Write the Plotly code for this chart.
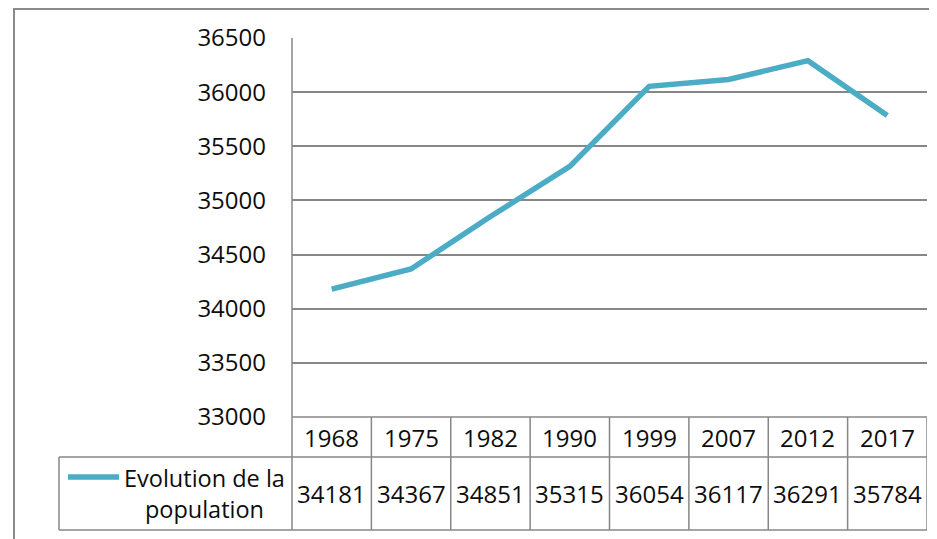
import plotly.graph_objects as go

years = ["1968", "1975", "1982", "1990", "1999", "2007", "2012", "2017"]
population = [34181, 34367, 34851, 35315, 36054, 36117, 36291, 35784]
series_name = "Evolution de la population"
y_ticks = [33000, 33500, 34000, 34500, 35000, 35500, 36000, 36500]

W, H = 937, 539
OFF = 8  # page body margin compensation
LINE_COLOR = "#4BACC6"
GRID = "#878787"
FONT = "Open Sans"
FS = 24
FS_TXT = 23.5
TXT = "#0d0d0d"

def px(x):
    return (x - OFF) / W

def py(y):
    return 1 - (y - OFF) / H

left, right, top, bottom = 292, 927, 38, 417
row1_bottom, row2_bottom = 457, 530
legend_left = 59

fig = go.Figure()
fig.add_trace(go.Scatter(
    x=list(range(len(years))), y=population, mode="lines", name=series_name,
    line=dict(color=LINE_COLOR, width=5.5), showlegend=False,
))

shapes = []
shapes.append(dict(type="line", xref="paper", yref="paper", x0=px(14), x1=px(14), y0=py(8), y1=py(560),
                   line=dict(color="#8a8a8a", width=2)))
shapes.append(dict(type="line", xref="paper", yref="paper", x0=px(14), x1=px(960), y0=py(9), y1=py(9),
                   line=dict(color="#8a8a8a", width=2)))
shapes.append(dict(type="line", xref="paper", yref="paper", x0=px(left), x1=px(left), y0=py(top), y1=py(row2_bottom),
                   line=dict(color=GRID, width=1.5)))
shapes.append(dict(type="line", xref="paper", yref="paper", x0=px(left), x1=px(right), y0=py(bottom), y1=py(bottom),
                   line=dict(color=GRID, width=1.5)))
for yy in (row1_bottom, row2_bottom):
    shapes.append(dict(type="line", xref="paper", yref="paper", x0=px(legend_left), x1=px(right), y0=py(yy), y1=py(yy),
                       line=dict(color=GRID, width=1.5)))
shapes.append(dict(type="line", xref="paper", yref="paper", x0=px(legend_left), x1=px(legend_left),
                   y0=py(row1_bottom), y1=py(row2_bottom), line=dict(color=GRID, width=1.5)))
for i in range(len(years)):
    shapes.append(dict(type="line", xref="x", yref="paper", x0=i + 0.5, x1=i + 0.5,
                       y0=py(bottom), y1=py(row2_bottom), line=dict(color=GRID, width=1.5)))
shapes.append(dict(type="line", xref="paper", yref="paper", x0=px(68), x1=px(119), y0=py(477), y1=py(477),
                   line=dict(color=LINE_COLOR, width=5.5)))

annotations = []
for i, (yr, val) in enumerate(zip(years, population)):
    annotations.append(dict(x=i, xref="x", y=py(437), yref="paper", text=yr, showarrow=False,
                            font=dict(family=FONT, size=FS, color=TXT), xanchor="center", yanchor="middle"))
    annotations.append(dict(x=i, xref="x", y=py(493), yref="paper", text=str(val), showarrow=False,
                            font=dict(family=FONT, size=FS, color=TXT), xanchor="center", yanchor="middle"))
annotations.append(dict(x=px(204), xref="paper", y=py(493), yref="paper",
                        text="Evolution de la<br>population", showarrow=False, align="center",
                        font=dict(family=FONT, size=FS_TXT, color=TXT), xanchor="center", yanchor="middle"))

fig.update_layout(
    width=W, height=H, margin=dict(l=0, r=0, t=0, b=0, pad=0),
    paper_bgcolor="white", plot_bgcolor="white",
    font=dict(family=FONT, size=FS, color=TXT),
    xaxis=dict(domain=[px(left), px(right)], range=[-0.5, len(years) - 0.5], showgrid=False,
               showticklabels=False, zeroline=False, showline=False, automargin=False),
    yaxis=dict(domain=[py(bottom), py(top)], range=[33000, 36500], tickvals=y_ticks,
               ticktext=[str(v) for v in y_ticks], showgrid=True, gridcolor=GRID, gridwidth=1.5,
               zeroline=False, showline=False, ticks="", ticklabelstandoff=25, automargin=False,
               tickfont=dict(family=FONT, size=FS, color=TXT)),
    shapes=shapes, annotations=annotations,
)

fig.write_html("out.html")
